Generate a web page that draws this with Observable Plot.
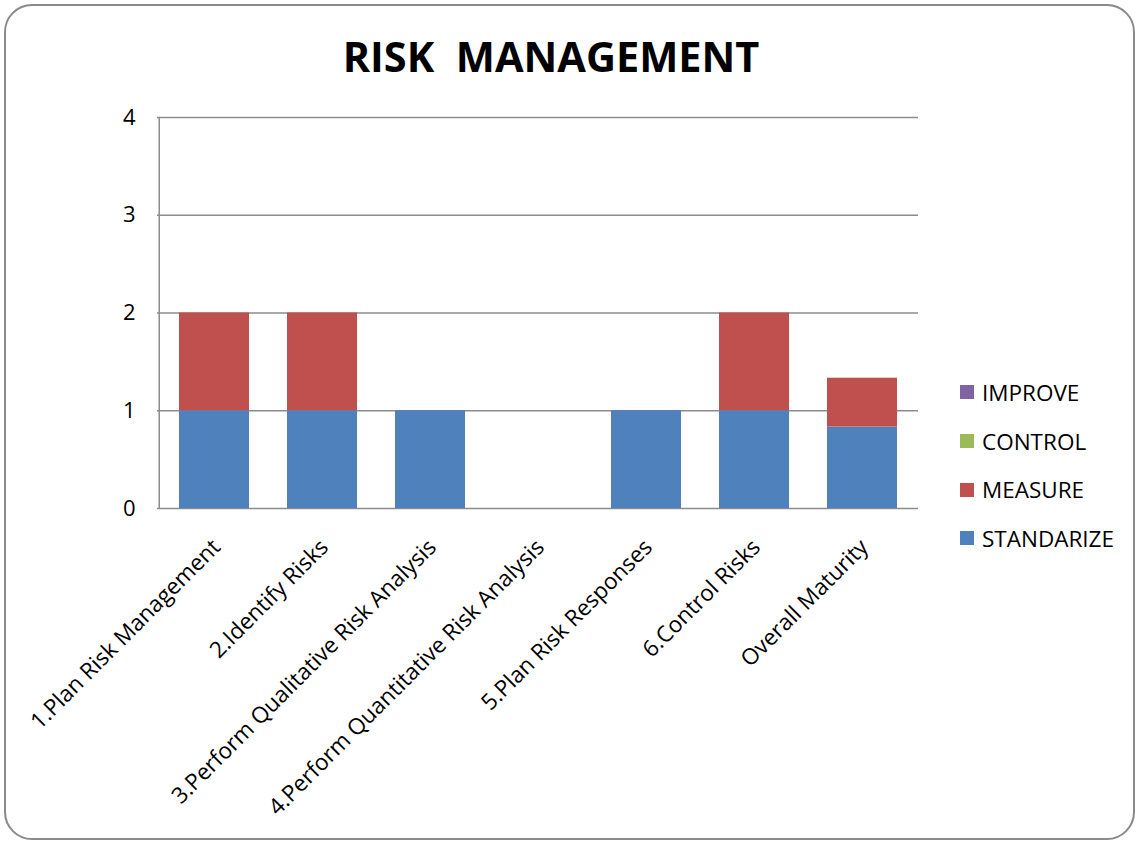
<!DOCTYPE html>
<html>
<head>
<meta charset="utf-8">
<script src="https://cdn.jsdelivr.net/npm/d3@7"></script>
<script src="https://cdn.jsdelivr.net/npm/@observablehq/plot@0.6"></script>
<style>
  html, body { margin: 0; padding: 0; background: #fff; }
  #wrap { position: relative; width: 1137px; height: 841px; font-family: "Open Sans", sans-serif; }
  #border { position: absolute; left: 4px; top: 4px; width: 1127px; height: 832px; border: 2px solid #8a8a8a; border-radius: 28px; pointer-events: none; }
  #title { position: absolute; left: 0; top: 28px; width: 1102px; text-align: center; font-weight: bold; font-size: 41.5px; color: #000; }
  #legend { position: absolute; left: 960px; top: 368px; }
  .row { display: flex; align-items: center; height: 48.7px; font-size: 22.5px; color: #000; }
  .sw { width: 14px; height: 14px; margin-right: 8px; }
  #chart { position: absolute; left: 0; top: 0; }
</style>
</head>
<body>
<div id="wrap">
  <div id="chart"></div>
  <div id="title">RISK&nbsp;&nbsp;MANAGEMENT</div>
  <div id="legend"></div>
  <div id="border"></div>
</div>
<script>
const categories = [
  "1.Plan Risk Management",
  "2.Identify Risks",
  "3.Perform Qualitative Risk Analysis",
  "4.Perform Quantitative Risk Analysis",
  "5.Plan Risk Responses",
  "6.Control Risks",
  "Overall Maturity"
];
const series = ["STANDARIZE", "MEASURE", "CONTROL", "IMPROVE"];
const colors = ["#4F81BD", "#C0504D", "#9BBB59", "#8064A2"];
const standarize = [1, 1, 1, 0, 1, 1, 0.833];
const measure    = [1, 1, 0, 0, 0, 1, 0.5];
const control    = [0, 0, 0, 0, 0, 0, 0];
const improve    = [0, 0, 0, 0, 0, 0, 0];
const yTicks = [0, 1, 2, 3, 4];

const valuesBySeries = [standarize, measure, control, improve];
const rows = [];
series.forEach((s, si) => {
  categories.forEach((c, ci) => {
    rows.push({category: c, series: s, value: valuesBySeries[si][ci]});
  });
});

const W = 1137, H = 841;
const mL = 157, mR = 219, mT = 117, mB = 333;
const xRange = [158, 917.5];
const step = (xRange[1] - xRange[0]) / categories.length;
const ruleDx = mL - (xRange[0] + step / 2);

const chart = Plot.plot({
  width: W,
  height: H,
  marginLeft: mL,
  marginRight: mR,
  marginTop: mT,
  marginBottom: mB,
  style: {fontFamily: "'Open Sans', sans-serif", background: "transparent", color: "#000"},
  x: {domain: categories, range: xRange, paddingInner: 0.355, paddingOuter: 0.1775, label: null},
  y: {domain: [0, 4], label: null},
  color: {domain: series, range: colors},
  marks: [
    Plot.gridY(yTicks, {stroke: "#8c8c8c", strokeOpacity: 1, strokeWidth: 1.5}),
    Plot.ruleX([categories[0]], {dx: ruleDx, y1: 0, y2: 4, stroke: "#8c8c8c", strokeWidth: 1.5}),
    Plot.barY(rows.filter(d => d.value > 0), {
      x: "category", y: "value", fill: "series", order: series
    }),
    Plot.axisY(yTicks, {tickSize: 0, tickPadding: 22, fontSize: 22, tickFormat: d => String(d)}),
    Plot.axisX({tickRotate: -45, tickSize: 0, tickPadding: 35, dx: 2, fontSize: 22.5})
  ]
});
document.getElementById("chart").appendChild(chart);

const legend = document.getElementById("legend");
for (let i = series.length - 1; i >= 0; i--) {
  const row = document.createElement("div");
  row.className = "row";
  const sw = document.createElement("div");
  sw.className = "sw";
  sw.style.background = colors[i];
  const lab = document.createElement("span");
  lab.textContent = series[i];
  row.appendChild(sw);
  row.appendChild(lab);
  legend.appendChild(row);
}
</script>
</body>
</html>
